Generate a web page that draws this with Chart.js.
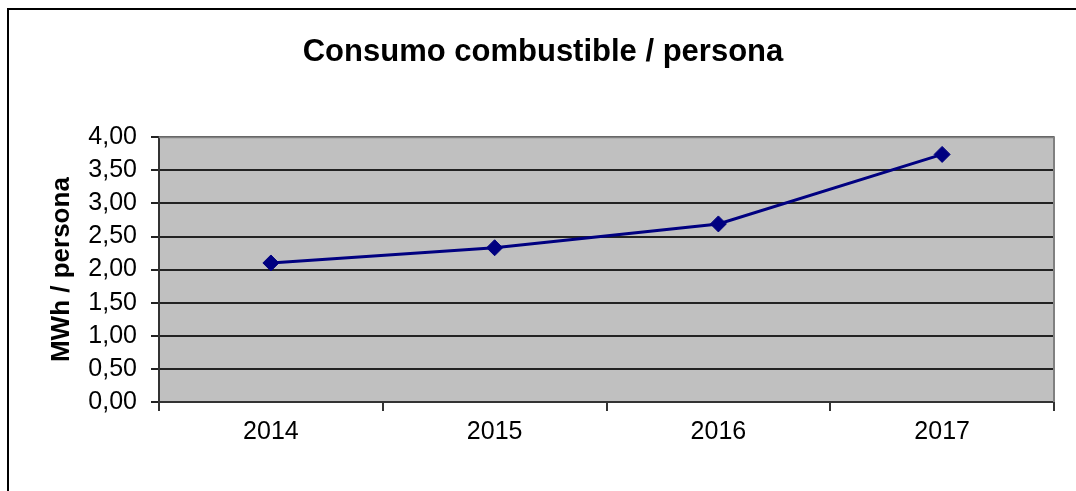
<!DOCTYPE html>
<html>
<head>
<meta charset="utf-8">
<script src="https://cdn.jsdelivr.net/npm/chart.js@4/dist/chart.umd.min.js"></script>
<style>
html,body{margin:0;padding:0;background:#fff;overflow:hidden;}
canvas{display:block;}
</style>
</head>
<body>
<canvas id="c" width="1076" height="491"></canvas>
<script>
const categories = ['2014', '2015', '2016', '2017'];
const consumo = [2.10, 2.33, 2.69, 3.74];
const yTicks = [0, 0.5, 1, 1.5, 2, 2.5, 3, 3.5, 4];
const titleText = 'Consumo combustible / persona';
const yTitle = 'MWh / persona';

const FONT = '"Liberation Sans", Arial, sans-serif';

const decor = {
  id: 'decor',
  beforeDraw(chart) {
    const {ctx, chartArea: a} = chart;
    ctx.save();
    ctx.fillStyle = '#c0c0c0';
    ctx.fillRect(a.left, a.top, a.right - a.left, a.bottom - a.top);
    ctx.strokeStyle = '#000';
    ctx.lineWidth = 2;
    ctx.strokeRect(8, 9, 1200, 700);
    ctx.restore();
  },
  beforeDatasetsDraw(chart) {
    const {ctx, chartArea: a} = chart;
    ctx.save();
    ctx.strokeStyle = '#808080';
    ctx.lineWidth = 2;
    ctx.beginPath();
    ctx.moveTo(a.left, a.top);
    ctx.lineTo(a.right, a.top);
    ctx.lineTo(a.right, a.bottom);
    ctx.stroke();
    ctx.restore();
  }
};

new Chart(document.getElementById('c'), {
  type: 'line',
  data: {
    labels: categories,
    datasets: [{
      data: consumo,
      borderColor: '#000080',
      backgroundColor: '#000080',
      borderWidth: 3,
      pointStyle: 'rectRot',
      pointRadius: 8,
      pointHoverRadius: 8,
      pointBorderWidth: 1,
      tension: 0
    }]
  },
  options: {
    responsive: false,
    animation: false,
    events: [],
    layout: {padding: {left: 32, right: 22, top: 0, bottom: 0}},
    plugins: {
      legend: {display: false},
      tooltip: {enabled: false},
      title: {
        display: true,
        text: titleText,
        color: '#000',
        font: {family: FONT, size: 31, weight: 'bold'},
        padding: {top: 34, bottom: 66}
      }
    },
    scales: {
      x: {
        type: 'category',
        offset: true,
        afterFit(s) { s.height = 89; },
        grid: {
          offset: true,
          drawOnChartArea: false,
          drawTicks: true,
          tickLength: 9,
          color: '#333',
          lineWidth: 2
        },
        border: {color: '#333', width: 2},
        ticks: {
          color: '#000',
          font: {family: FONT, size: 25},
          padding: 6,
          maxRotation: 0
        }
      },
      y: {
        min: 0,
        max: 4,
        afterFit(s) { s.width = 127; },
        afterBuildTicks(s) { s.ticks = yTicks.map(v => ({value: v})); },
        grid: {
          color: '#222',
          lineWidth: 2,
          drawTicks: true,
          tickLength: 8
        },
        border: {color: '#333', width: 2},
        ticks: {
          color: '#000',
          font: {family: FONT, size: 25},
          padding: 14,
          callback: v => v.toFixed(2).replace('.', ',')
        },
        title: {
          display: true,
          text: yTitle,
          color: '#000',
          font: {family: FONT, size: 26, weight: 'bold'},
          padding: {top: 14, bottom: 0}
        }
      }
    }
  },
  plugins: [decor]
});
</script>
</body>
</html>
